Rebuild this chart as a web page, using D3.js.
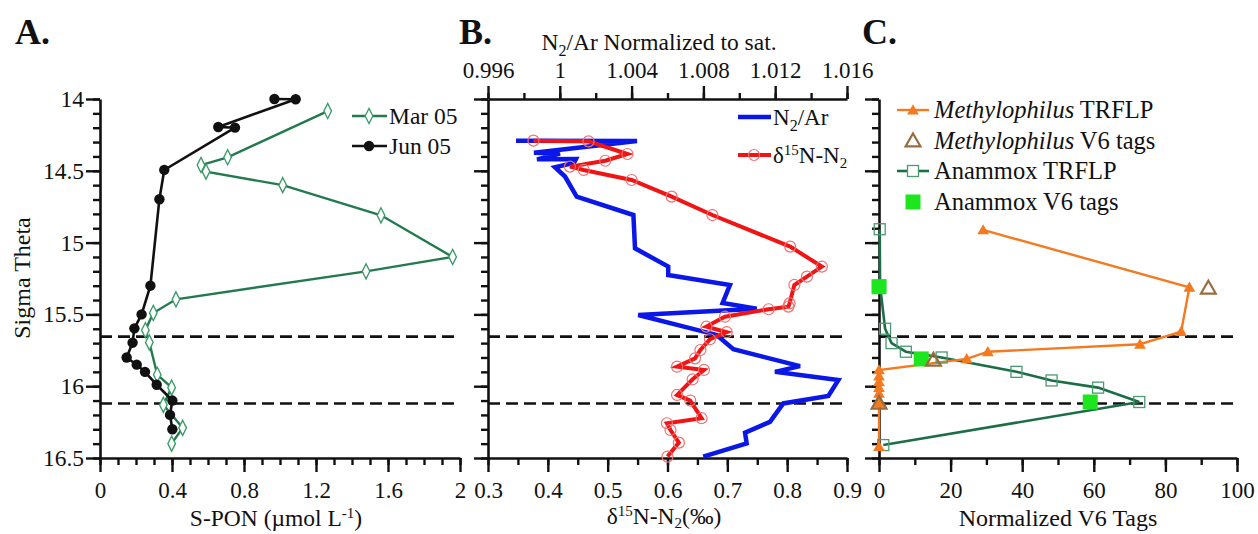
<!DOCTYPE html>
<html>
<head>
<meta charset="utf-8">
<script src="https://cdn.jsdelivr.net/npm/d3@7"></script>
<style>
  body { margin: 0; background: #fff; }
  svg { display: block; }
  text { font-family: "Liberation Serif", "Times New Roman", serif; fill: #111; }
</style>
</head>
<body>
<svg width="1258" height="534"></svg>
<script>
// ---- data (sigma theta vs values) ----
const sigmaTicks = [14, 14.5, 15, 15.5, 16, 16.5];
const dashedSigma = [15.655, 16.12];

// panel A: S-PON
const marSigma = [14.084, 14.406, 14.46, 14.506, 14.60, 14.81, 15.10, 15.20, 15.395, 15.49, 15.61, 15.695, 15.92, 16.01, 16.13, 16.29, 16.40];
const marPon = [1.265, 0.709, 0.561, 0.589, 1.015, 1.561, 1.959, 1.478, 0.422, 0.296, 0.252, 0.274, 0.318, 0.398, 0.352, 0.459, 0.398];
const junSigma = [14.0, 14.002, 14.195, 14.199, 14.494, 14.698, 15.30, 15.50, 15.597, 15.697, 15.80, 15.85, 15.90, 15.99, 16.10, 16.20, 16.30];
const junPon = [0.969, 1.087, 0.657, 0.75, 0.357, 0.33, 0.28, 0.231, 0.191, 0.181, 0.148, 0.204, 0.25, 0.315, 0.402, 0.389, 0.402];
const ponTicks = [0, 0.4, 0.8, 1.2, 1.6, 2];

// panel B: N2/Ar and d15N-N2
const n2arSigma = [14.29, 14.292, 14.375, 14.38, 14.42, 14.418, 14.445, 14.475, 14.54, 14.68, 14.808, 15.04, 15.167, 15.226, 15.295, 15.42, 15.46, 15.504, 15.643, 15.743, 15.86, 15.90, 15.957, 16.068, 16.12, 16.248, 16.324, 16.398, 16.49];
const n2arValues = [0.99756, 1.0043, 0.99856, 1.00001, 0.99873, 1.0009, 1.00079, 0.99973, 1.00029, 1.00094, 1.0041, 1.00419, 1.00604, 1.00604, 1.00948, 1.00907, 1.01097, 1.00437, 1.00874, 1.00967, 1.01338, 1.01199, 1.01552, 1.01496, 1.01245, 1.01171, 1.01032, 1.01041, 1.00799];
const d15Sigma = [14.29, 14.295, 14.383, 14.43, 14.471, 14.494, 14.564, 14.68, 14.808, 15.028, 15.167, 15.237, 15.295, 15.423, 15.446, 15.464, 15.516, 15.585, 15.624, 15.673, 15.748, 15.806, 15.864, 15.887, 15.952, 16.061, 16.10, 16.223, 16.258, 16.305, 16.393, 16.49];
const d15Values = [0.376, 0.468, 0.533, 0.496, 0.437, 0.46, 0.54, 0.607, 0.675, 0.805, 0.858, 0.833, 0.812, 0.804, 0.802, 0.769, 0.696, 0.665, 0.699, 0.671, 0.655, 0.646, 0.616, 0.661, 0.642, 0.616, 0.638, 0.657, 0.599, 0.605, 0.619, 0.600];
const d15Ticks = [0.3, 0.4, 0.5, 0.6, 0.7, 0.8, 0.9];
const n2arTicks = [0.996, 1, 1.004, 1.008, 1.012, 1.016];

// panel C: normalized V6 tags
const methTrflpSigma = [14.912, 15.311, 15.62, 15.708, 15.76, 15.81, 15.887, 15.93, 15.97, 16.01, 16.05, 16.12, 16.42];
const methTrflpValues = [29.1, 86.7, 84.4, 72.9, 30.4, 24.5, 0, 0, 0, 0, 0, 0, 0];
const methV6Sigma = [15.318, 15.82, 16.12];
const methV6Values = [92, 15.2, 0];
const anaTrflpSigma = [14.907, 15.30, 15.60, 15.70, 15.76, 15.80, 15.90, 15.96, 16.01, 16.11, 16.41];
const anaTrflpValues = [0.2, 0.3, 1.7, 3.5, 7.5, 17.5, 38.4, 48.2, 61.2, 72.7, 1.2];
const anaV6Sigma = [15.307, 15.81, 16.11];
const anaV6Values = [0, 11.8, 59];
const tagTicks = [0, 20, 40, 60, 80, 100];

const svg = d3.select("svg");

const y = d3.scaleLinear().domain([14, 16.5]).range([99, 458]);
const xA = d3.scaleLinear().domain([0, 2]).range([100, 460]);
const xB = d3.scaleLinear().domain([0.3, 0.9]).range([488, 847]);
const xBtop = d3.scaleLinear().domain([0.996, 1.016]).range([488, 847]);
const xC = d3.scaleLinear().domain([0, 100]).range([879, 1237]);

const minorSigma = d3.range(0, 26).map(i => 14 + i * 0.1);

function styleAxis(g, size) {
  g.attr("font-family", null).attr("font-size", null);
  g.select(".domain").attr("stroke", "#111").attr("stroke-width", 2.6);
  g.selectAll(".tick line").attr("stroke", "#111").attr("stroke-width", 2.4);
  g.selectAll(".tick text").style("font-size", size + "px").attr("fill", "#111");
}

function leftAxis(x0, labels) {
  const minor = svg.append("g").attr("transform", `translate(${x0},0)`)
    .call(d3.axisLeft(y).tickValues(minorSigma).tickSize(7).tickSizeOuter(0).tickFormat(""));
  styleAxis(minor, 23);
  const major = svg.append("g").attr("transform", `translate(${x0},0)`)
    .call(d3.axisLeft(y).tickValues(sigmaTicks).tickSize(14).tickSizeOuter(0).tickPadding(2)
      .tickFormat(labels ? d3.format("") : ""));
  styleAxis(major, 23.5);
  major.select(".domain").remove();
}

function bottomAxis(scale, majors, minors, fmt) {
  const minor = svg.append("g").attr("transform", "translate(0,458)")
    .call(d3.axisBottom(scale).tickValues(minors).tickSize(7).tickSizeOuter(0).tickFormat(""));
  styleAxis(minor, 23);
  const major = svg.append("g").attr("transform", "translate(0,458)")
    .call(d3.axisBottom(scale).tickValues(majors).tickSize(14).tickSizeOuter(0).tickPadding(10).tickFormat(fmt));
  styleAxis(major, 23);
  major.select(".domain").remove();
}

function dashed(scale) {
  svg.append("g").selectAll("line").data(dashedSigma).join("line")
    .attr("x1", scale.range()[0]).attr("x2", scale.range()[1])
    .attr("y1", d => y(d)).attr("y2", d => y(d))
    .attr("stroke", "#111").attr("stroke-width", 2.6).attr("stroke-dasharray", "12,6");
}

// ---- panel A ----
dashed(xA);
leftAxis(100, true);
bottomAxis(xA, ponTicks, d3.range(0, 21).map(i => i * 0.1), d3.format(""));

const marPts = marSigma.map((s, i) => [marPon[i], s]);
const junPts = junSigma.map((s, i) => [junPon[i], s]);
const lineA = d3.line().x(d => xA(d[0])).y(d => y(d[1]));
const green = "#237a4e";

svg.append("path").attr("d", lineA(marPts)).attr("fill", "none").attr("stroke", green).attr("stroke-width", 2.4);
svg.append("g").selectAll("path").data(marPts).join("path")
  .attr("d", d3.symbol(d3.symbolDiamond, 50))
  .attr("transform", d => `translate(${xA(d[0])},${y(d[1])}) scale(1,1.15)`)
  .attr("fill", "#fff").attr("stroke", "#3a9a68").attr("stroke-width", 1.3);

svg.append("path").attr("d", lineA(junPts)).attr("fill", "none").attr("stroke", "#111").attr("stroke-width", 2.6);
svg.append("g").selectAll("circle").data(junPts).join("circle")
  .attr("cx", d => xA(d[0])).attr("cy", d => y(d[1])).attr("r", 5.2).attr("fill", "#111");

// legend A
svg.append("line").attr("x1", 352).attr("x2", 387).attr("y1", 116).attr("y2", 116).attr("stroke", green).attr("stroke-width", 2.4);
svg.append("path").attr("d", d3.symbol(d3.symbolDiamond, 50)).attr("transform", "translate(369,116) scale(1,1.15)")
  .attr("fill", "#fff").attr("stroke", "#3a9a68").attr("stroke-width", 1.3);
svg.append("text").attr("x", 389).attr("y", 124).style("font-size", "23.5px").text("Mar 05");
svg.append("line").attr("x1", 352).attr("x2", 387).attr("y1", 146).attr("y2", 146).attr("stroke", "#111").attr("stroke-width", 2.6);
svg.append("circle").attr("cx", 369).attr("cy", 146).attr("r", 5.2).attr("fill", "#111");
svg.append("text").attr("x", 389).attr("y", 154).style("font-size", "23.5px").text("Jun 05");

svg.append("text").attr("transform", "translate(30,278) rotate(-90)").attr("text-anchor", "middle")
  .style("font-size", "24px").text("Sigma Theta");
const ponLabel = svg.append("text").attr("x", 276).attr("y", 526).attr("text-anchor", "middle").style("font-size", "23.5px");
ponLabel.append("tspan").text("S-PON (\u00b5mol L");
ponLabel.append("tspan").attr("dy", -8).style("font-size", "15px").text("-1");
ponLabel.append("tspan").attr("dy", 8).text(")");

svg.append("text").attr("x", 15).attr("y", 44).style("font-size", "36px").style("font-weight", "bold").text("A.");

// ---- panel B ----
dashed(xB);
leftAxis(488, false);
bottomAxis(xB, d15Ticks, d3.range(0, 13).map(i => 0.3 + i * 0.05), d3.format(""));

const topMinor = svg.append("g").attr("transform", "translate(0,99)")
  .call(d3.axisTop(xBtop).tickValues(d3.range(0, 11).map(i => 0.996 + i * 0.002)).tickSize(6).tickSizeOuter(0).tickFormat(""));
styleAxis(topMinor, 23);
const topMajor = svg.append("g").attr("transform", "translate(0,99)")
  .call(d3.axisTop(xBtop).tickValues(n2arTicks).tickSize(13).tickSizeOuter(0).tickPadding(8).tickFormat(d3.format("")));
styleAxis(topMajor, 23);
topMajor.select(".domain").remove();

const n2Pts = n2arSigma.map((s, i) => [n2arValues[i], s]);
const d15Pts = d15Sigma.map((s, i) => [d15Values[i], s]);
const blue = "#0b16e8";
const red = "#f01414";

svg.append("path").attr("d", d3.line().x(d => xBtop(d[0])).y(d => y(d[1]))(n2Pts))
  .attr("fill", "none").attr("stroke", blue).attr("stroke-width", 4.5).attr("stroke-linejoin", "miter");
svg.append("path").attr("d", d3.line().x(d => xB(d[0])).y(d => y(d[1]))(d15Pts))
  .attr("fill", "none").attr("stroke", red).attr("stroke-width", 4);
svg.append("g").selectAll("circle").data(d15Pts).join("circle")
  .attr("cx", d => xB(d[0])).attr("cy", d => y(d[1])).attr("r", 5.5)
  .attr("fill", "none").attr("stroke", "#f07070").attr("stroke-width", 1.2);

// legend B
svg.append("line").attr("x1", 738).attr("x2", 771).attr("y1", 117).attr("y2", 117).attr("stroke", blue).attr("stroke-width", 4.5);
const lgN2 = svg.append("text").attr("x", 773).attr("y", 125).style("font-size", "23px");
lgN2.append("tspan").text("N");
lgN2.append("tspan").attr("dy", 6).style("font-size", "16px").text("2");
lgN2.append("tspan").attr("dy", -6).text("/Ar");
svg.append("line").attr("x1", 738).attr("x2", 771).attr("y1", 155).attr("y2", 155).attr("stroke", red).attr("stroke-width", 4);
svg.append("circle").attr("cx", 754).attr("cy", 155).attr("r", 5.5).attr("fill", "none").attr("stroke", "#f07070").attr("stroke-width", 1.2);
const lgD = svg.append("text").attr("x", 773).attr("y", 163).style("font-size", "23px");
lgD.append("tspan").text("\u03b4");
lgD.append("tspan").attr("dy", -8).style("font-size", "15px").text("15");
lgD.append("tspan").attr("dy", 8).text("N-N");
lgD.append("tspan").attr("dy", 5).style("font-size", "15px").text("2");

const bLabel = svg.append("text").attr("x", 664).attr("y", 524).attr("text-anchor", "middle").style("font-size", "23.5px");
bLabel.append("tspan").text("\u03b4");
bLabel.append("tspan").attr("dy", -8).style("font-size", "15px").text("15");
bLabel.append("tspan").attr("dy", 8).text("N-N");
bLabel.append("tspan").attr("dy", 4).style("font-size", "15px").text("2");
bLabel.append("tspan").attr("dy", -4).text("(\u2030)");

const tLabel = svg.append("text").attr("x", 659).attr("y", 50).attr("text-anchor", "middle").style("font-size", "23.5px");
tLabel.append("tspan").text("N");
tLabel.append("tspan").attr("dy", 6).style("font-size", "16px").text("2");
tLabel.append("tspan").attr("dy", -6).text("/Ar Normalized to sat.");

svg.append("text").attr("x", 459).attr("y", 44).style("font-size", "36px").style("font-weight", "bold").text("B.");

// ---- panel C ----
dashed(xC);
leftAxis(879, false);
bottomAxis(xC, tagTicks, d3.range(0, 11).map(i => i * 10), d3.format(""));

const orange = "#f47a20";
const brown = "#9a6b3c";
const dkgreen = "#1c6e46";
const lime = "#1ee61e";
const lineC = d3.line().x(d => xC(d[0])).y(d => y(d[1]));
const methPts = methTrflpSigma.map((s, i) => [methTrflpValues[i], s]);
const methV6Pts = methV6Sigma.map((s, i) => [methV6Values[i], s]);
const anaPts = anaTrflpSigma.map((s, i) => [anaTrflpValues[i], s]);
const anaV6Pts = anaV6Sigma.map((s, i) => [anaV6Values[i], s]);

svg.append("path").attr("d", lineC(anaPts)).attr("fill", "none").attr("stroke", dkgreen).attr("stroke-width", 2.6);
svg.append("path").attr("d", lineC(methPts)).attr("fill", "none").attr("stroke", orange).attr("stroke-width", 2.4);
svg.append("g").selectAll("rect").data(anaPts).join("rect")
  .attr("x", d => xC(d[0]) - 5.5).attr("y", d => y(d[1]) - 5.5).attr("width", 11).attr("height", 11)
  .attr("fill", "none").attr("stroke", "#4a9a72").attr("stroke-width", 1.3);
svg.append("g").selectAll("path").data(methPts).join("path")
  .attr("d", d3.symbol(d3.symbolTriangle, 60))
  .attr("transform", d => `translate(${xC(d[0])},${y(d[1]) + 1})`)
  .attr("fill", orange);
svg.append("g").selectAll("rect").data(anaV6Pts).join("rect")
  .attr("x", d => xC(d[0]) - 7.5).attr("y", d => y(d[1]) - 7.5).attr("width", 15).attr("height", 15)
  .attr("fill", lime);
svg.append("g").selectAll("path").data(methV6Pts).join("path")
  .attr("d", d3.symbol(d3.symbolTriangle, 95))
  .attr("transform", d => `translate(${xC(d[0])},${y(d[1]) + 1})`)
  .attr("fill", "none").attr("stroke", brown).attr("stroke-width", 2.2);

// legend C
const lgC = [
  { y: 110, italic: "Methylophilus", rest: " TRFLP", kind: "methLine" },
  { y: 141, italic: "Methylophilus", rest: " V6 tags", kind: "methV6" },
  { y: 171, italic: "", rest: "Anammox TRFLP", kind: "anaLine" },
  { y: 202, italic: "", rest: "Anammox V6 tags", kind: "anaV6" }
];
lgC.forEach(e => {
  if (e.kind === "methLine") {
    svg.append("line").attr("x1", 897).attr("x2", 929).attr("y1", e.y).attr("y2", e.y).attr("stroke", orange).attr("stroke-width", 2.4);
    svg.append("path").attr("d", d3.symbol(d3.symbolTriangle, 60)).attr("transform", `translate(913,${e.y + 1})`).attr("fill", orange);
  } else if (e.kind === "methV6") {
    svg.append("path").attr("d", d3.symbol(d3.symbolTriangle, 95)).attr("transform", `translate(913,${e.y + 1})`)
      .attr("fill", "none").attr("stroke", brown).attr("stroke-width", 2.2);
  } else if (e.kind === "anaLine") {
    svg.append("line").attr("x1", 897).attr("x2", 929).attr("y1", e.y).attr("y2", e.y).attr("stroke", dkgreen).attr("stroke-width", 2.6);
    svg.append("rect").attr("x", 907.5).attr("y", e.y - 5.5).attr("width", 11).attr("height", 11)
      .attr("fill", "#fff").attr("stroke", "#4a9a72").attr("stroke-width", 1.3);
  } else {
    svg.append("rect").attr("x", 905.5).attr("y", e.y - 7.5).attr("width", 15).attr("height", 15).attr("fill", lime);
  }
  const t = svg.append("text").attr("x", 934).attr("y", e.y + 8).style("font-size", "24.5px");
  if (e.italic) t.append("tspan").style("font-style", "italic").text(e.italic);
  t.append("tspan").text(e.rest);
});

svg.append("text").attr("x", 1058).attr("y", 526).attr("text-anchor", "middle").style("font-size", "24px").text("Normalized V6 Tags");
svg.append("text").attr("x", 862).attr("y", 44).style("font-size", "36px").style("font-weight", "bold").text("C.");
</script>
</body>
</html>
